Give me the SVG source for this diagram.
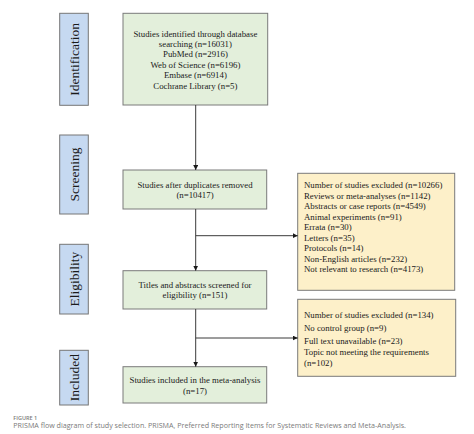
<svg xmlns="http://www.w3.org/2000/svg" width="474" height="434" viewBox="0 0 474 434">
<style>
.stage{fill:#c6d9f1;stroke:#767676;stroke-width:1}
.main{fill:#e3efdb;stroke:#7a7a7a;stroke-width:1}
.excl{fill:#fdf0c9;stroke:#7a7a7a;stroke-width:1}
.st{font-family:"Liberation Serif","Times New Roman",serif;font-size:13.5px;fill:#1a1a1a;text-anchor:middle}
.t{font-family:"Liberation Serif","Times New Roman",serif;font-size:8.8px;fill:#1a1a1a}
.c{text-anchor:middle}
.conn{stroke:#3a3a3a;stroke-width:1;fill:none}
.cap{font-family:"Open Sans","Noto Sans",sans-serif;fill:#7a7a7a}
</style>
<defs>
<marker id="ah" viewBox="0 0 10 10" refX="10" refY="5" markerWidth="5" markerHeight="5" markerUnits="userSpaceOnUse" orient="auto">
<path d="M0,0 L10,5 L0,10 z" fill="#1a1a1a"/>
</marker>
</defs>
<rect width="474" height="434" fill="#ffffff"/>

<g id="stage-identification">
<rect class="stage" x="59.7" y="13.3" width="28.6" height="92"/>
<text class="st" transform="translate(78.8,59.3) rotate(-90)">Identification</text>
</g>
<g id="stage-screening">
<rect class="stage" x="59.7" y="135" width="28.6" height="79"/>
<text class="st" transform="translate(78.8,174.5) rotate(-90)">Screening</text>
</g>
<g id="stage-eligibility">
<rect class="stage" x="59.7" y="244.3" width="28.6" height="69.7"/>
<text class="st" transform="translate(78.8,279.2) rotate(-90)">Eligibility</text>
</g>
<g id="stage-included">
<rect class="stage" x="59.7" y="350.3" width="28.6" height="54.7"/>
<text class="st" transform="translate(78.8,377.7) rotate(-90)">Included</text>
</g>

<g id="node-identified">
<rect class="main" x="123" y="13.3" width="144.7" height="91.7"/>
<text class="t c" x="195.4"><tspan x="195.4" y="36.5">Studies identified through database</tspan><tspan x="195.4" y="46.9">searching (n=16031)</tspan><tspan x="195.4" y="57.3">PubMed (n=2916)</tspan><tspan x="195.4" y="67.7">Web of Science (n=6196)</tspan><tspan x="195.4" y="78.1">Embase (n=6914)</tspan><tspan x="195.4" y="88.5">Cochrane Library (n=5)</tspan></text>
</g>

<g id="node-duplicates">
<rect class="main" x="123" y="170" width="143.7" height="39"/>
<text class="t c"><tspan x="195" y="187.5">Studies after duplicates removed</tspan><tspan x="195" y="198">(n=10417)</tspan></text>
</g>

<g id="node-screened">
<rect class="main" x="123" y="270.7" width="143.7" height="38.3"/>
<text class="t c"><tspan x="195" y="288">Titles and abstracts screened for</tspan><tspan x="195" y="298.4">eligibility (n=151)</tspan></text>
</g>

<g id="node-included">
<rect class="main" x="123" y="366.7" width="143.7" height="36.3"/>
<text class="t c"><tspan x="195" y="383.4">Studies included in the meta-analysis</tspan><tspan x="195" y="393.6">(n=17)</tspan></text>
</g>

<g id="node-excluded1">
<rect class="excl" x="297.7" y="173.3" width="157" height="117"/>
<text class="t"><tspan x="304" y="188">Number of studies excluded (n=10266)</tspan><tspan x="304" y="198.5">Reviews or meta-analyses (n=1142)</tspan><tspan x="304" y="209">Abstracts or case reports (n=4549)</tspan><tspan x="304" y="219.6">Animal experiments (n=91)</tspan><tspan x="304" y="230.1">Errata (n=30)</tspan><tspan x="304" y="240.7">Letters (n=35)</tspan><tspan x="304" y="251.2">Protocols (n=14)</tspan><tspan x="304" y="261.7">Non-English articles (n=232)</tspan><tspan x="304" y="272.2">Not relevant to research (n=4173)</tspan></text>
</g>

<g id="node-excluded2">
<rect class="excl" x="297.7" y="299.3" width="158" height="77"/>
<text class="t"><tspan x="304" y="318.2">Number of studies excluded (n=134)</tspan><tspan x="304" y="331">No control group (n=9)</tspan><tspan x="304" y="343.5">Full text unavailable (n=23)</tspan><tspan x="304" y="355">Topic not meeting the requirements</tspan><tspan x="304" y="365.6">(n=102)</tspan></text>
</g>

<g id="connectors">
<line class="conn" x1="195.7" y1="105" x2="195.7" y2="170" marker-end="url(#ah)"/>
<line class="conn" x1="195.7" y1="209" x2="195.7" y2="270.7" marker-end="url(#ah)"/>
<line class="conn" x1="195.7" y1="235.7" x2="297.7" y2="235.7" marker-end="url(#ah)"/>
<line class="conn" x1="195.7" y1="309" x2="195.7" y2="366.7" marker-end="url(#ah)"/>
<line class="conn" x1="195.7" y1="338" x2="297.7" y2="338" marker-end="url(#ah)"/>
</g>

<g id="caption">
<text class="cap" x="13.3" y="420" font-size="5.5px" font-weight="600">FIGURE 1</text>
<text class="cap" x="13.3" y="428.3" font-size="6.9px" textLength="392.7" lengthAdjust="spacingAndGlyphs">PRISMA flow diagram of study selection. PRISMA, Preferred Reporting Items for Systematic Reviews and Meta-Analysis.</text>
</g>
</svg>
